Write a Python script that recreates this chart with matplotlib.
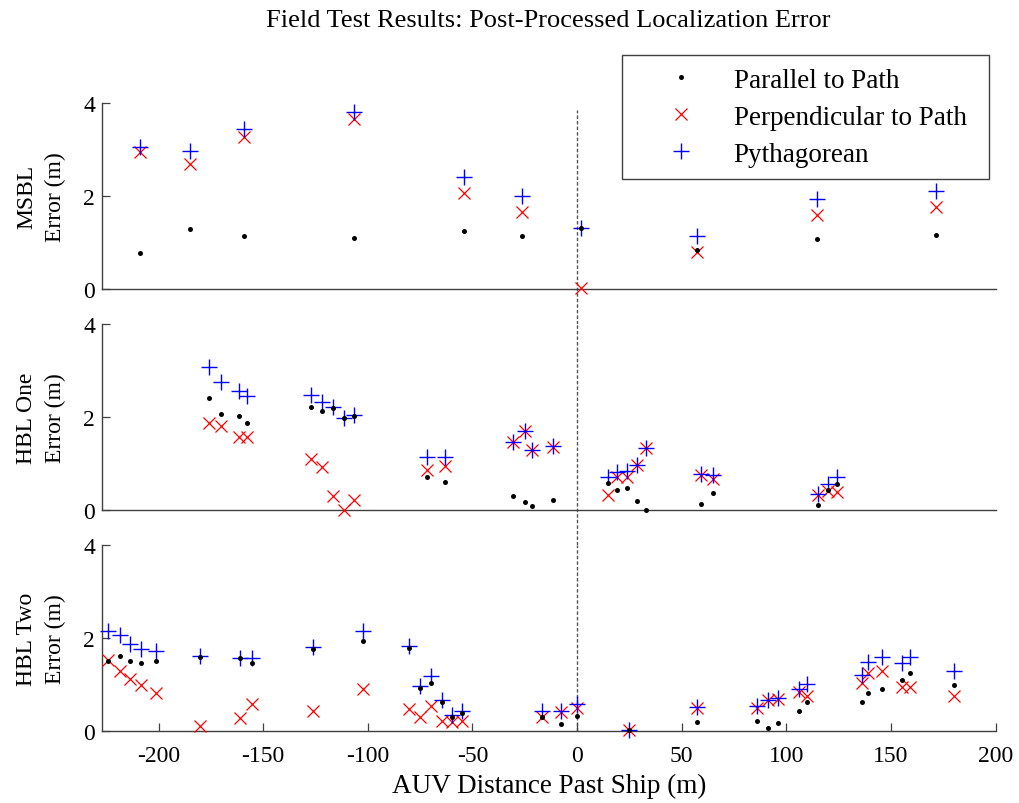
import numpy as np
import matplotlib
matplotlib.use("Agg")
import matplotlib.pyplot as plt

plt.rcParams['font.family'] = ['Liberation Serif', 'DejaVu Serif']
plt.rcParams['axes.unicode_minus'] = False

# MSBL
msbl_x = [-209, -185, -159, -106.6, -54, -26.3, 1.8, 57.3, 114.4, 171.4]
msbl_par = [0.77, 1.28, 1.14, 1.09, 1.25, 1.14, 1.32, 0.84, 1.07, 1.16]
msbl_perp = [2.94, 2.69, 3.26, 3.66, 2.06, 1.65, 0.02, 0.79, 1.60, 1.76]
msbl_pyth = [3.05, 2.97, 3.45, 3.81, 2.40, 2.01, 1.32, 1.15, 1.94, 2.11]

# HBL One
hbl1_x = [-175.7, -170.3, -161.5, -157.8, -126.9, -121.8, -116.7, -111.4, -106.6,
          -71.7, -63.1, -30.6, -24.7, -21.4, -11.4,
          15.0, 19.3, 23.9, 28.4, 32.7, 59.4, 65.0, 114.9, 119.7, 124.0]
hbl1_par = [2.42, 2.07, 2.03, 1.88, 2.22, 2.12, 2.19, 1.98, 2.03,
            0.71, 0.61, 0.31, 0.18, 0.09, 0.21,
            0.58, 0.44, 0.48, 0.20, 0.0, 0.14, 0.37, 0.10, 0.42, 0.55]
hbl1_perp = [1.87, 1.80, 1.56, 1.56, 1.10, 0.93, 0.31, 0.01, 0.22,
             0.87, 0.95, 1.46, 1.69, 1.29, 1.36,
             0.33, 0.70, 0.70, 0.97, 1.34, 0.76, 0.67, 0.33, 0.41, 0.39]
hbl1_pyth = [3.08, 2.75, 2.57, 2.46, 2.47, 2.32, 2.22, 1.98, 2.04,
             1.13, 1.15, 1.47, 1.69, 1.29, 1.37,
             0.70, 0.81, 0.85, 0.97, 1.34, 0.77, 0.76, 0.34, 0.56, 0.70]

# HBL Two
hbl2_x = [-224.2, -218.6, -213.8, -208.6, -201, -180.2, -161, -155.4, -126.1,
          -102.1, -80.2, -75, -69.8, -64.7, -59.7, -54.9, -17, -7.8, -0.2,
          24.6, 57.3, 85.8, 91.1, 96.2, 106.1, 109.8, 136, 139.2, 145.8,
          155.4, 158.9, 180.2]
hbl2_par = [1.50, 1.61, 1.51, 1.46, 1.51, 1.60, 1.57, 1.46, 1.77,
            1.93, 1.78, 0.92, 1.03, 0.63, 0.31, 0.38, 0.31, 0.14, 0.33,
            0.02, 0.20, 0.22, 0.06, 0.18, 0.44, 0.63, 0.63, 0.82, 0.90,
            1.10, 1.25, 0.99]
hbl2_perp = [1.53, 1.30, 1.12, 0.99, 0.82, 0.11, 0.27, 0.57, 0.42,
             0.90, 0.47, 0.29, 0.54, 0.22, 0.20, 0.22, 0.31, 0.41, 0.49,
             0.02, 0.50, 0.50, 0.67, 0.69, 0.83, 0.76, 1.03, 1.25, 1.30,
             0.94, 0.94, 0.76]
hbl2_pyth = [2.16, 2.06, 1.87, 1.76, 1.71, 1.61, 1.58, 1.57, 1.80,
             2.14, 1.83, 0.97, 1.18, 0.67, 0.34, 0.42, 0.42, 0.42, 0.58,
             0.02, 0.51, 0.54, 0.67, 0.71, 0.90, 1.01, 1.20, 1.48, 1.60,
             1.46, 1.60, 1.28]

panels = [
    ("MSBL\nError (m)", msbl_x, msbl_par, msbl_perp, msbl_pyth),
    ("HBL One\nError (m)", hbl1_x, hbl1_par, hbl1_perp, hbl1_pyth),
    ("HBL Two\nError (m)", hbl2_x, hbl2_par, hbl2_perp, hbl2_pyth),
]

fig = plt.figure(figsize=(10.19, 8.04), dpi=100)
left, width, height = 0.1001, 0.877, 0.2313
bottoms = [0.6393, 0.3644, 0.0896]
spine_col = '#404040'

axes = []
for i, (lab, x, par, perp, pyth) in enumerate(panels):
    ax = fig.add_axes([left, bottoms[i], width, height])
    axes.append(ax)
    ax.plot(x, perp, 'x', color='red', ms=9, mew=0.9, ls='none', clip_on=False,
            label='Perpendicular to Path', zorder=3)
    ax.plot(x, pyth, '+', color='blue', ms=12, mew=1.0, ls='none', clip_on=False,
            label='Pythagorean', zorder=4)
    ax.plot(x, par, 'o', color='black', ms=3.6, mew=0, ls='none', clip_on=False,
            label='Parallel to Path', zorder=5)
    ax.set_xlim(-227, 200)
    ax.set_ylim(0, 4)
    ax.set_yticks([0, 2, 4])
    for s in ['top', 'right']:
        ax.spines[s].set_visible(False)
    for s in ['left', 'bottom']:
        ax.spines[s].set_color(spine_col)
        ax.spines[s].set_linewidth(1.0)
    ax.tick_params(axis='both', direction='in', length=6, width=0.9,
                   color=spine_col, labelsize=17, pad=5)
    ax.tick_params(axis='x', pad=10)
    ax.set_ylabel(lab, fontsize=17, linespacing=1.5, labelpad=12)
    # dashed line at x = 0
    ymin = 0 if i == 2 else -0.19
    ymax = 0.96 if i == 0 else 1.0
    ax.axvline(0, ymin=ymin, ymax=ymax, color='#555555', lw=1.0,
               ls=(0, (2.5, 1.5)), clip_on=False, zorder=1)
    if i < 2:
        ax.set_xticks([])
    else:
        ax.set_xticks(np.arange(-200, 201, 50))
        ax.set_xlabel('AUV Distance Past Ship (m)', fontsize=19.5, labelpad=5)

fig.text(0.5385, 1 - 21 / 804, 'Field Test Results: Post-Processed Localization Error',
         fontsize=19, ha='center', va='center')

h, l = axes[0].get_legend_handles_labels()
order = [2, 0, 1]
leg = fig.legend([h[k] for k in order], [l[k] for k in order],
                 loc='upper left',
                 bbox_to_anchor=(622 / 1019, 1 - 177 / 804, 367 / 1019, 121 / 804),
                 mode='expand', fontsize=19.5, frameon=True, fancybox=False,
                 framealpha=1, edgecolor=spine_col, borderpad=0.47,
                 handlelength=3.4, handletextpad=0.25, labelspacing=0.44,
                 borderaxespad=0)
leg.get_frame().set_linewidth(1.0)

fig.savefig('out.png', dpi=100)
